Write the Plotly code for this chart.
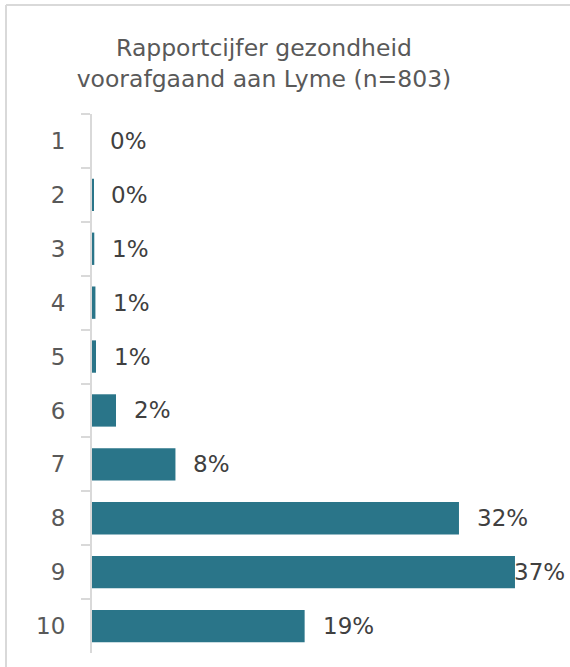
import plotly.graph_objects as go

categories = ["1", "2", "3", "4", "5", "6", "7", "8", "9", "10"]
values = [0.0, 0.1, 0.2, 0.3, 0.35, 2.1, 7.3, 32.1, 37.0, 18.6]
labels = ["0%", "0%", "1%", "1%", "1%", "2%", "8%", "32%", "37%", "19%"]
title_text = "Rapportcijfer gezondheid<br>voorafgaand aan Lyme (n=803)"

BAR_COLOR = "#2a7589"
FONT = "DejaVu Sans"
X_MAX = 41.55

fig = go.Figure(
    go.Bar(
        x=values,
        y=categories,
        orientation="h",
        marker=dict(color=BAR_COLOR, line=dict(width=0)),
        hoverinfo="skip",
    )
)

annotations = []
for i, (val, lab) in enumerate(zip(values, labels)):
    if val > 35:
        annotations.append(dict(x=X_MAX, y=i, xref="x", yref="y", text=lab,
                                showarrow=False, xanchor="right", yanchor="middle",
                                font=dict(family=FONT, size=23, color="#404040")))
    else:
        annotations.append(dict(x=val, y=i, xref="x", yref="y", text=lab,
                                showarrow=False, xanchor="left", yanchor="middle",
                                xshift=16,
                                font=dict(family=FONT, size=23, color="#404040")))

fig.update_layout(
    width=570,
    height=667,
    paper_bgcolor="white",
    plot_bgcolor="white",
    margin=dict(l=92, r=3, t=114, b=14),
    bargap=0.4,
    showlegend=False,
    title=dict(
        text=title_text,
        font=dict(family=FONT, size=23.5, color="#595959"),
        xref="container", yref="container",
        x=264 / 570, y=1 - 56 / 667,
        xanchor="center", yanchor="top",
    ),
    xaxis=dict(range=[0, X_MAX], visible=False, fixedrange=True),
    yaxis=dict(
        type="category",
        autorange="reversed",
        showline=True,
        linecolor="#d9d9d9",
        linewidth=2,
        ticks="outside",
        ticklen=9,
        tickwidth=2,
        tickcolor="#d9d9d9",
        tickson="boundaries",
        ticklabelstandoff=20,
        tickfont=dict(family=FONT, size=23, color="#595959"),
        showgrid=False,
        zeroline=False,
        fixedrange=True,
    ),
    annotations=annotations,
    shapes=[
        dict(type="line", xref="paper", yref="paper",
             x0=-86 / 475, x1=1 + 3 / 475, y0=1 + 109 / 539, y1=1 + 109 / 539,
             line=dict(color="#d9d9d9", width=2)),
        dict(type="line", xref="paper", yref="paper",
             x0=-86 / 475, x1=-86 / 475, y0=1 + 109 / 539, y1=-14 / 539,
             line=dict(color="#d9d9d9", width=2)),
    ],
)

fig.write_html(
    "out.html",
    config={"displayModeBar": False},
    post_script="document.body.style.margin='0';document.body.style.overflow='hidden';",
)
